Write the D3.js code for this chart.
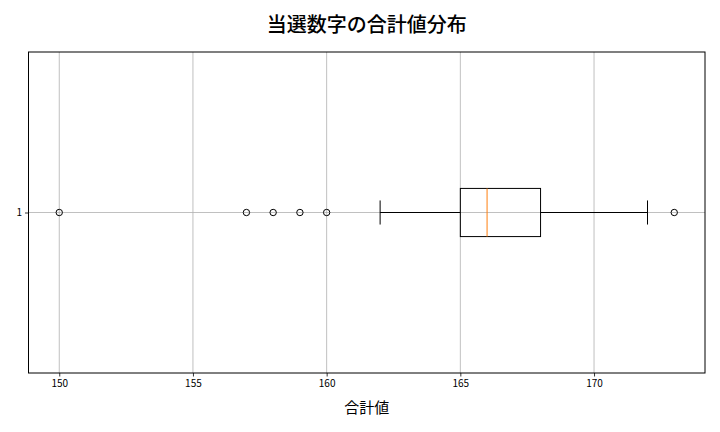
<!DOCTYPE html>
<meta charset="utf-8" />
<style>
  body { margin: 0; background: #fff; }
  text { font-family: "Noto Sans CJK JP", "Noto Sans", sans-serif; }
</style>
<body>
<script src="https://d3js.org/d3.v7.min.js"></script>
<script>
  // box statistics
  const boxStats = { whiskerLow: 162, q1: 165, median: 166, q3: 168, whiskerHigh: 172 };
  const outliers = [150, 157, 158, 159, 160, 173];
  const xTicks = [150, 155, 160, 165, 170];
  const yTicks = [1];

  const W = 720, H = 432;
  const margin = { top: 52, right: 15, bottom: 59, left: 28.5 };
  const width = W - margin.left - margin.right,
    height = H - margin.top - margin.bottom;

  const svg = d3.select('body').append('svg')
    .attr('width', W).attr('height', H);

  svg.append('text')
    .attr('x', margin.left + width / 2).attr('y', 32)
    .attr('text-anchor', 'middle')
    .style('font-size', '20px').style('font-weight', '500')
    .text('当選数字の合計値分布');

  const g = svg.append('g')
    .attr('transform', 'translate(' + margin.left + ',' + margin.top + ')');

  // matplotlib style 5% padding
  const lo = d3.min(outliers.concat([boxStats.whiskerLow])),
    hi = d3.max(outliers.concat([boxStats.whiskerHigh]));
  const pad = (hi - lo) * 0.05;
  const x = d3.scaleLinear().domain([lo - pad, hi + pad]).range([0, width]);
  const y = d3.scaleLinear().domain([0.5, 1.5]).range([height, 0]);

  // grid
  g.selectAll('.vgrid').data(xTicks).enter().append('line')
    .attr('x1', d => x(d)).attr('x2', d => x(d))
    .attr('y1', 0).attr('y2', height)
    .attr('stroke', '#b0b0b0').attr('stroke-width', 0.8);
  g.selectAll('.hgrid').data(yTicks).enter().append('line')
    .attr('x1', 0).attr('x2', width)
    .attr('y1', d => y(d)).attr('y2', d => y(d))
    .attr('stroke', '#b0b0b0').attr('stroke-width', 0.8);

  // axes
  const xAxis = g.append('g').attr('transform', 'translate(0,' + height + ')')
    .call(d3.axisBottom(x).tickValues(xTicks).tickSize(3.5).tickPadding(3).tickFormat(d3.format('d')));
  const yAxis = g.append('g')
    .call(d3.axisLeft(y).tickValues(yTicks).tickSize(3.5).tickPadding(3).tickFormat(d3.format('d')));
  [xAxis, yAxis].forEach(a => {
    a.select('.domain').remove();
    a.selectAll('text').style('font-size', '10px').attr('fill', '#000')
      .style('font-family', '"Noto Sans CJK JP", sans-serif');
    a.selectAll('line').attr('stroke', '#000').attr('stroke-width', 0.8);
  });

  // box
  const yc = y(1), bh = y(1) - y(1.075), cap = bh / 2;
  const s = boxStats;
  g.append('line').attr('x1', x(s.whiskerLow)).attr('x2', x(s.q1))
    .attr('y1', yc).attr('y2', yc).attr('stroke', '#000').attr('stroke-width', 1);
  g.append('line').attr('x1', x(s.q3)).attr('x2', x(s.whiskerHigh))
    .attr('y1', yc).attr('y2', yc).attr('stroke', '#000').attr('stroke-width', 1);
  [s.whiskerLow, s.whiskerHigh].forEach(v => {
    g.append('line').attr('x1', x(v)).attr('x2', x(v))
      .attr('y1', yc - cap).attr('y2', yc + cap).attr('stroke', '#000').attr('stroke-width', 1);
  });
  g.append('rect')
    .attr('x', x(s.q1)).attr('y', yc - bh)
    .attr('width', x(s.q3) - x(s.q1)).attr('height', bh * 2)
    .attr('fill', 'none').attr('stroke', '#000').attr('stroke-width', 1);
  g.append('line').attr('x1', x(s.median)).attr('x2', x(s.median))
    .attr('y1', yc - bh).attr('y2', yc + bh)
    .attr('stroke', '#ff7f0e').attr('stroke-width', 1);

  g.selectAll('.flier').data(outliers).enter().append('circle')
    .attr('cx', d => x(d)).attr('cy', yc).attr('r', 3.2)
    .attr('fill', 'none').attr('stroke', '#000').attr('stroke-width', 1);

  // frame
  g.append('rect').attr('width', width).attr('height', height)
    .attr('fill', 'none').attr('stroke', '#000').attr('stroke-width', 1);

  svg.append('text')
    .attr('x', margin.left + width / 2).attr('y', 413)
    .attr('text-anchor', 'middle')
    .style('font-size', '15px')
    .text('合計値');
</script>
</body>
